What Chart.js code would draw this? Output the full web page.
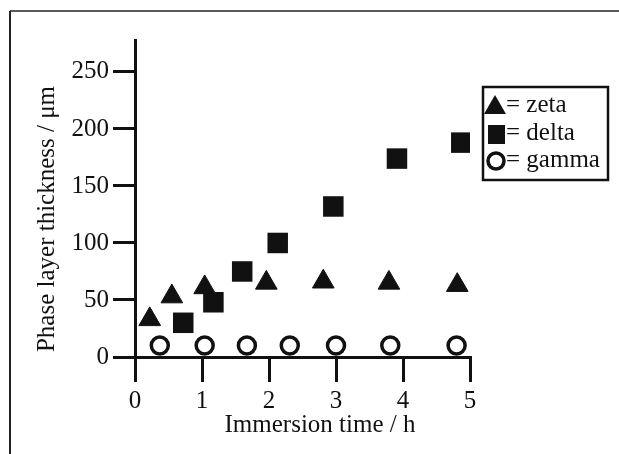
<!DOCTYPE html>
<html>
<head>
<meta charset="utf-8">
<script src="https://cdn.jsdelivr.net/npm/chart.js@4/dist/chart.umd.min.js"></script>
<style>
  html, body { margin: 0; padding: 0; background: #fff; }
  canvas { display: block; }
</style>
</head>
<body>
<canvas id="phaseChart" width="619" height="454"></canvas>
<script>
// values (time in h, thickness in µm)
const zetaTime = [0.22, 0.55, 1.04, 1.96, 2.81, 3.79, 4.81];
const zetaThickness = [33, 53, 61, 65, 66, 65, 63];
const deltaTime = [0.72, 1.17, 1.6, 2.13, 2.96, 3.91, 4.87];
const deltaThickness = [30, 48, 75, 100, 132, 174, 188];
const gammaTime = [0.37, 1.04, 1.67, 2.31, 3.0, 3.81, 4.8];
const gammaThickness = [10, 10, 10, 10, 10, 10, 10];
const yTicks = [0, 50, 100, 150, 200, 250];
const xTicks = [0, 1, 2, 3, 4, 5];
const legendLabels = ['= zeta', '= delta', '= gamma'];

const serif = '"Liberation Serif", "Times New Roman", serif';

function toPoints(xs, ys) {
    return xs.map((x, i) => ({ x: x, y: ys[i] }));
}

// frame, axis titles and boxed legend
const decorations = {
    id: 'decorations',
    afterDraw(chart) {
        const ctx = chart.ctx;
        ctx.save();

        // outer frame (top and left only)
        ctx.strokeStyle = '#5a5a5a';
        ctx.lineWidth = 2;
        ctx.beginPath();
        ctx.moveTo(10, 11);
        ctx.lineTo(619, 11);
        ctx.stroke();
        ctx.strokeStyle = '#222';
        ctx.beginPath();
        ctx.moveTo(10, 11);
        ctx.lineTo(10, 454);
        ctx.stroke();

        ctx.fillStyle = '#111';
        ctx.font = '25px ' + serif;
        ctx.textAlign = 'center';
        ctx.textBaseline = 'alphabetic';
        ctx.fillText('Immersion time / h', 320, 432);

        ctx.save();
        ctx.translate(54, 219);
        ctx.rotate(-Math.PI / 2);
        ctx.fillText('Phase layer thickness / \u03bcm', 0, 0);
        ctx.restore();

        // legend box
        ctx.strokeStyle = '#111';
        ctx.lineWidth = 2.5;
        ctx.strokeRect(483, 87, 125, 93);

        const rows = [106, 134, 161];
        // triangle
        ctx.beginPath();
        ctx.moveTo(495, rows[0] - 11);
        ctx.lineTo(506, rows[0] + 8);
        ctx.lineTo(484, rows[0] + 8);
        ctx.closePath();
        ctx.fill();
        // square
        ctx.fillRect(488, rows[1] - 9, 17, 19);
        // circle
        ctx.lineWidth = 3.5;
        ctx.beginPath();
        ctx.arc(496, rows[2], 8, 0, Math.PI * 2);
        ctx.stroke();

        ctx.textAlign = 'left';
        ctx.textBaseline = 'middle';
        legendLabels.forEach((label, i) => {
            ctx.fillText(label, 506, rows[i] - 1);
        });

        ctx.restore();
    }
};

const ctx = document.getElementById('phaseChart').getContext('2d');
const phaseChart = new Chart(ctx, {
    type: 'scatter',
    data: {
        datasets: [
            {
                label: 'delta',
                data: toPoints(deltaTime, deltaThickness),
                pointStyle: 'rect',
                pointRadius: 14.5,
                backgroundColor: '#111',
                borderColor: '#111',
                borderWidth: 0,
                order: 0
            },
            {
                label: 'zeta',
                data: toPoints(zetaTime, zetaThickness),
                pointStyle: 'triangle',
                pointRadius: 12.5,
                backgroundColor: '#111',
                borderColor: '#111',
                borderWidth: 1,
                order: 1
            },
            {
                label: 'gamma',
                data: toPoints(gammaTime, gammaThickness),
                pointStyle: 'circle',
                pointRadius: 8.5,
                backgroundColor: '#fff',
                borderColor: '#111',
                borderWidth: 3.5,
                order: 2
            }
        ]
    },
    options: {
        responsive: false,
        animation: false,
        devicePixelRatio: 1,
        layout: {
            padding: { left: 0, right: 149, top: 40, bottom: 0 }
        },
        plugins: {
            legend: { display: false },
            tooltip: { enabled: false }
        },
        scales: {
            x: {
                type: 'linear',
                min: 0,
                max: 5,
                afterFit: scale => { scale.height = 97; },
                afterBuildTicks: scale => { scale.ticks = xTicks.map(v => ({ value: v })); },
                border: { display: true, color: '#111', width: 3 },
                grid: {
                    drawOnChartArea: false,
                    drawTicks: true,
                    tickLength: 25,
                    color: '#111',
                    lineWidth: 3
                },
                ticks: {
                    color: '#111',
                    padding: 4,
                    font: { family: serif, size: 25 }
                }
            },
            y: {
                type: 'linear',
                min: 0,
                max: 278,
                afterFit: scale => { scale.width = 135; },
                afterBuildTicks: scale => { scale.ticks = yTicks.map(v => ({ value: v })); },
                border: { display: true, color: '#111', width: 3 },
                grid: {
                    drawOnChartArea: false,
                    drawTicks: true,
                    tickLength: 22,
                    color: '#111',
                    lineWidth: 3
                },
                ticks: {
                    color: '#111',
                    padding: 4,
                    font: { family: serif, size: 25 }
                }
            }
        }
    },
    plugins: [decorations]
});
</script>
</body>
</html>
